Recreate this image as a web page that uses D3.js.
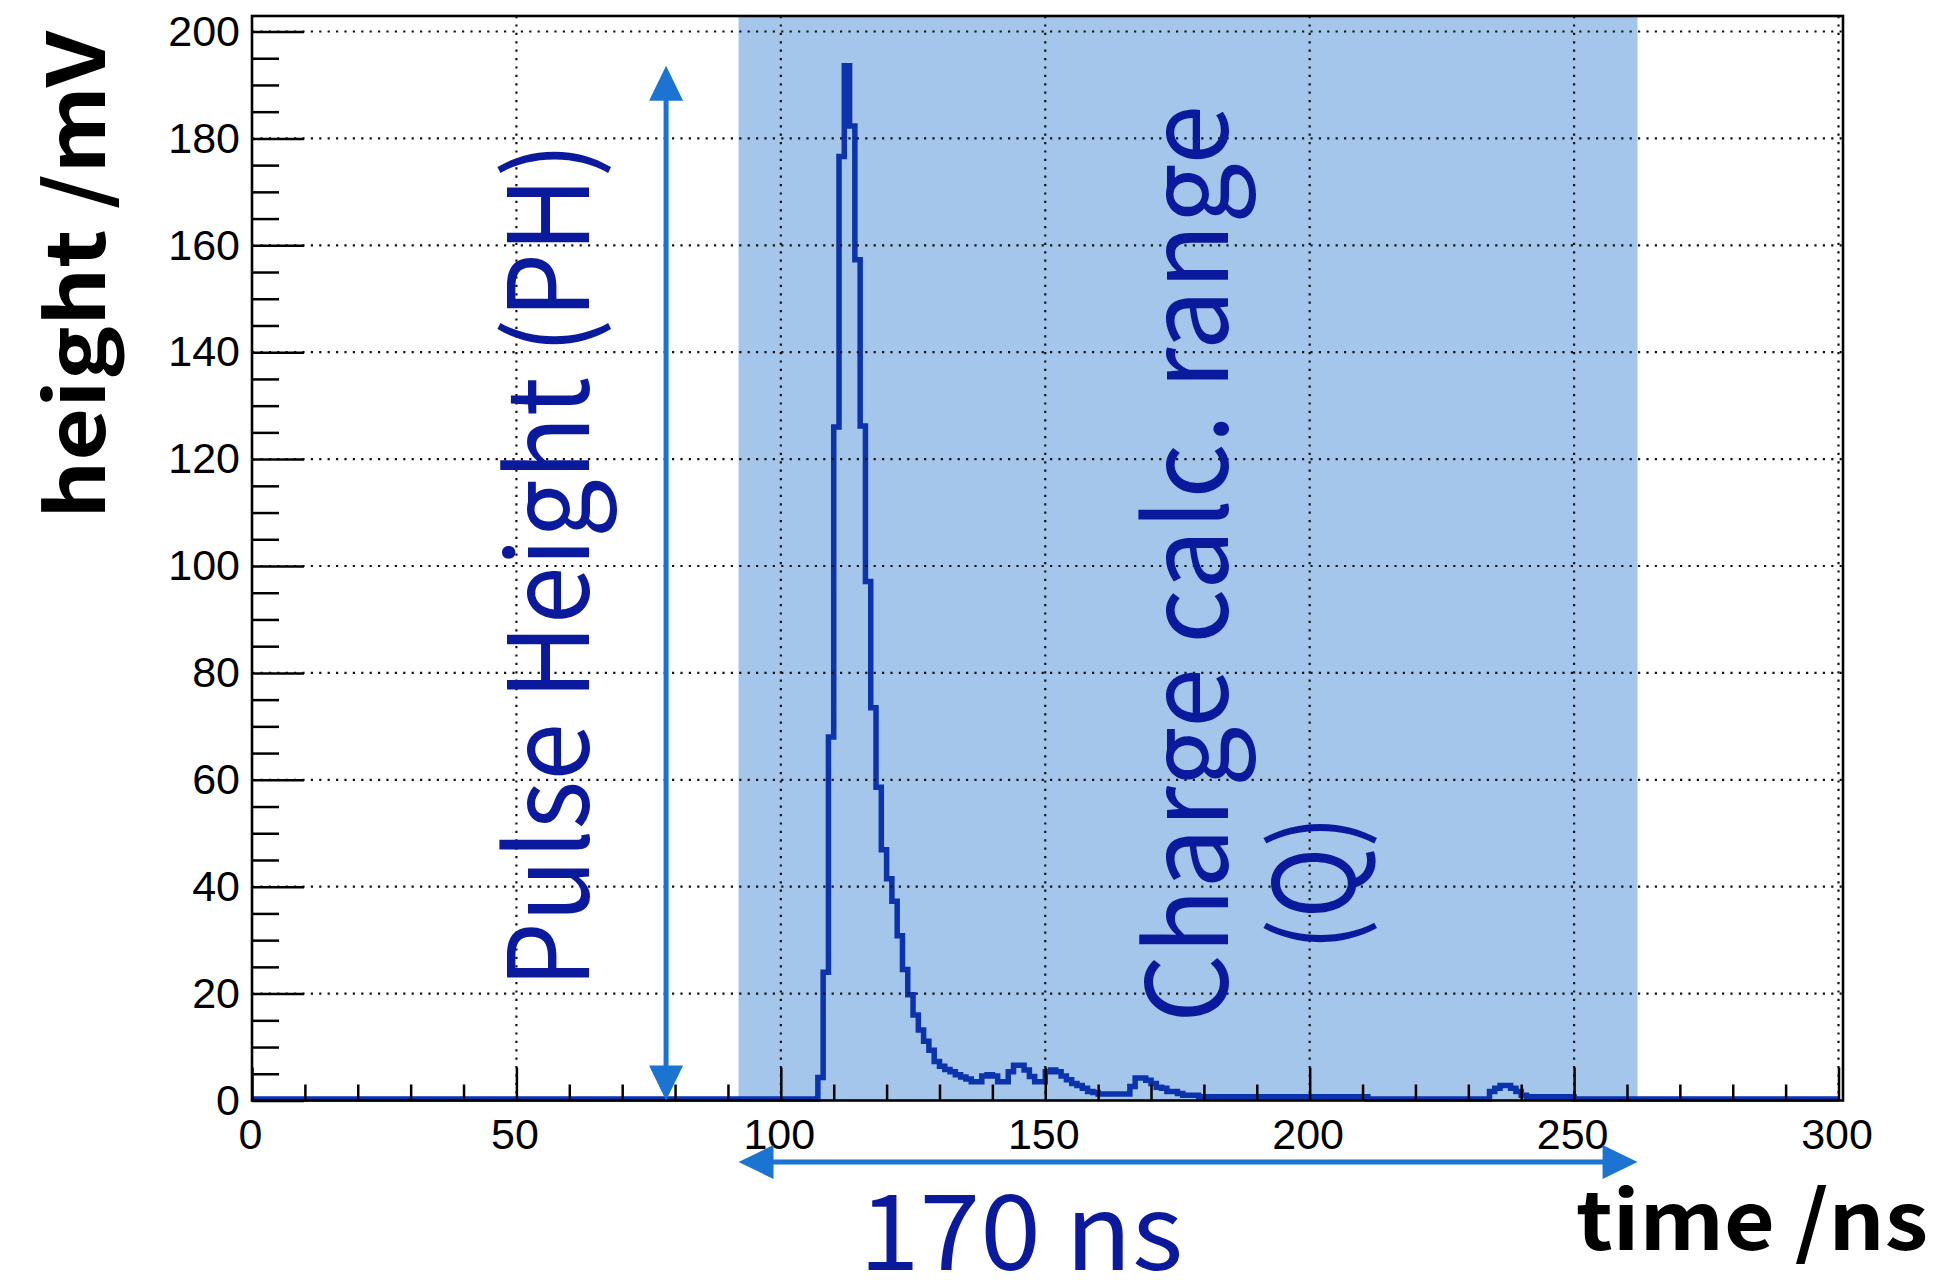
<!DOCTYPE html>
<html><head><meta charset="utf-8">
<script src="https://cdn.jsdelivr.net/npm/d3@7"></script>
<style>html,body{margin:0;padding:0;background:#fff;} svg{display:block;}</style>
</head><body>
<svg id="c" width="1937" height="1280"></svg>
<script>
// ---- data ----
// histogram: value holds from each step time until the next one (1 ns bins)
const stepTimes = [0,107,108,109,110,111,112,113,114,115,116,117,118,119,120,121,122,123,124,125,126,127,128,129,130,131,132,133,134,135,136,138,139,140,141,143,144,146,147,148,150,151,152,153,154,155,156,157,158,159,160,166,167,169,170,171,172,173,175,176,179,211,234,235,236,238,239,240,241,250];
const stepHeights = [0.3,4.3,24,68,126,176.6,193.6,182.3,157.3,126.2,97.1,73.5,58.6,46.9,41.5,37.3,30.8,24.5,19.8,16.0,13.2,11.1,9.4,7.3,6.4,5.8,5.4,4.8,4.4,4.0,3.5,4.6,4.8,4.6,3.5,5.4,6.6,5.7,4.5,3.5,5.4,5.7,5.4,4.6,3.9,3.2,2.8,2.3,1.7,1.5,1.2,2.6,4.2,3.8,3.2,2.5,2.3,1.7,1.3,1.0,0.7,0.3,1.7,2.3,2.8,2.3,1.7,1.0,0.7,0.3];
const histEnd = 300;
const xMajorTicks = [0,50,100,150,200,250,300];
const xTickLabels = ["0","50","100","150","200","250","300"];
const xMinorTicks = [10,20,30,40,60,70,80,90,110,120,130,140,160,170,180,190,210,220,230,240,260,270,280,290];
const yMajorTicks = [0,20,40,60,80,100,120,140,160,180,200];
const yTickLabels = ["0","20","40","60","80","100","120","140","160","180","200"];
const yMinorTicks = [5,10,15,25,30,35,45,50,55,65,70,75,85,90,95,105,110,115,125,130,135,145,150,155,165,170,175,185,190,195];
const axisRangeX = [0, 300.85];
const axisRangeY = [0, 202.9];
const chargeRange = [92, 262];
const phArrowTime = 78.3;
const phPeak = 193.6;
const xTitle = "time /ns", yTitle = "height /mV";
const phLabel = "Pulse Height (PH)";
const qLabel1 = "Charge calc. range", qLabel2 = "(Q)";
const rangeLabel = "170 ns";

// ---- drawing ----
(function () {
const svg = d3.select("#c");
const x = d3.scaleLinear().domain(axisRangeX).range([252, 1843]);
const y = d3.scaleLinear().domain(axisRangeY).range([1100.5, 16]);
const fTop = y(axisRangeY[1]), fBot = y(0), fLeft = x(0), fRight = x(axisRangeX[1]);

// shaded charge range
svg.append("rect")
  .attr("x", x(chargeRange[0])).attr("y", fTop)
  .attr("width", x(chargeRange[1]) - x(chargeRange[0]))
  .attr("height", fBot - fTop)
  .attr("fill", "#a4c6ea");

// histogram
const pts = stepTimes.map((t, i) => [t, stepHeights[i]]);
pts.push([histEnd, stepHeights[stepHeights.length - 1]]);
svg.append("path")
  .attr("d", d3.line().x(d => x(d[0])).y(d => y(d[1])).curve(d3.curveStepAfter)(pts))
  .attr("fill", "none").attr("stroke", "#0a33ad").attr("stroke-width", 5.5)
  .attr("stroke-linejoin", "miter");

// grid
const grid = svg.append("g").attr("stroke", "#111").attr("stroke-width", 2.2)
  .attr("stroke-dasharray", "2.2 6.2");
grid.selectAll("line.gx").data(xMajorTicks.filter(v => v > 0)).join("line").attr("class", "gx")
  .attr("x1", d => x(d)).attr("x2", d => x(d)).attr("y1", fTop).attr("y2", fBot);
grid.selectAll("line.gy").data(yMajorTicks.filter(v => v > 0)).join("line").attr("class", "gy")
  .attr("y1", d => y(d)).attr("y2", d => y(d)).attr("x1", fLeft).attr("x2", fRight);

// axes
const font = "'Liberation Sans', Arial, Helvetica, sans-serif";
const xAx = svg.append("g").attr("transform", `translate(0,${fBot})`)
  .call(d3.axisBottom(x).tickValues(xMajorTicks).tickFormat((d, i) => xTickLabels[i])
        .tickSize(-33).tickPadding(18));
const xAxMinor = svg.append("g").attr("transform", `translate(0,${fBot})`)
  .call(d3.axisBottom(x).tickValues(xMinorTicks).tickFormat("").tickSize(-16));
const yAx = svg.append("g").attr("transform", `translate(${fLeft},0)`)
  .call(d3.axisLeft(y).tickValues(yMajorTicks).tickFormat((d, i) => yTickLabels[i])
        .tickSize(-52).tickPadding(12));
const yAxMinor = svg.append("g").attr("transform", `translate(${fLeft},0)`)
  .call(d3.axisLeft(y).tickValues(yMinorTicks).tickFormat("").tickSize(-27));
[xAx, xAxMinor, yAx, yAxMinor].forEach(g => {
  g.select(".domain").remove();
  g.selectAll(".tick line").attr("stroke", "#000").attr("stroke-width", 2.5);
  g.selectAll(".tick text").attr("fill", "#000").style("font-family", font).style("font-size", "43px");
});
xAx.selectAll(".tick text").attr("dx", "-2");

// frame
svg.append("rect").attr("x", fLeft).attr("y", fTop).attr("width", fRight - fLeft).attr("height", fBot - fTop)
  .attr("fill", "none").attr("stroke", "#000").attr("stroke-width", 2.6);

// arrows
const arrowCol = "#1c74d2";
function arrow(x1, y1, x2, y2) {
  const L = 35, W = 17;
  const dx = x2 - x1, dy = y2 - y1, len = Math.hypot(dx, dy);
  const ux = dx / len, uy = dy / len, px = -uy, py = ux;
  svg.append("line").attr("x1", x1 + ux * (L - 2)).attr("y1", y1 + uy * (L - 2))
    .attr("x2", x2 - ux * (L - 2)).attr("y2", y2 - uy * (L - 2))
    .attr("stroke", arrowCol).attr("stroke-width", 5);
  const head = (tx, ty, sx, sy) => {
    const bx = tx - sx * L, by = ty - sy * L;
    svg.append("path").attr("d",
      `M${tx},${ty}L${bx + px * W},${by + py * W}L${bx - px * W},${by - py * W}Z`)
      .attr("fill", arrowCol);
  };
  head(x2, y2, ux, uy);
  head(x1, y1, -ux, -uy);
}
arrow(x(phArrowTime), y(0), x(phArrowTime), y(phPeak));
arrow(x(chargeRange[0]), 1162, x(chargeRange[1]), 1162);

// annotation texts
const jp = "'Noto Sans CJK JP', 'Noto Sans', sans-serif";
const blue = "#0b1a9c";
function rtext(str, bx, startY, endY, size, weight, col) {
  svg.append("text").attr("transform", `translate(${bx},${startY}) rotate(-90)`)
    .attr("textLength", startY - endY).attr("lengthAdjust", "spacingAndGlyphs")
    .style("font-family", jp).style("font-size", size + "px").style("font-weight", weight)
    .attr("fill", col).text(str);
}
rtext(phLabel, 589, 988, 142, 112, 400, blue);
rtext(qLabel1, 1228, 1023, 105, 112, 400, blue);
rtext(qLabel2, 1355, 951, 815, 112, 400, blue);
rtext(yTitle, 105, 519, 31, 80, 700, "#000");

svg.append("text").attr("x", 859).attr("y", 1270)
  .attr("textLength", 324).attr("lengthAdjust", "spacingAndGlyphs")
  .style("font-family", jp).style("font-size", "105px").attr("fill", blue).text(rangeLabel);
svg.append("text").attr("x", 1576).attr("y", 1250)
  .attr("textLength", 352).attr("lengthAdjust", "spacingAndGlyphs")
  .style("font-family", jp).style("font-size", "80px").style("font-weight", 700)
  .attr("fill", "#000").text(xTitle);
})();
</script>
</body></html>
